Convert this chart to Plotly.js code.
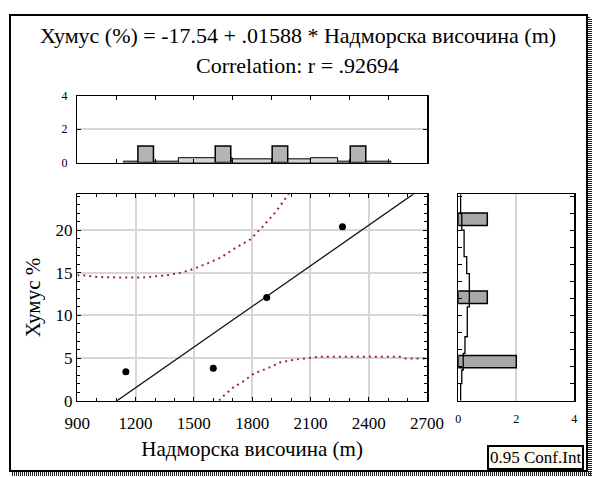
<!DOCTYPE html>
<html>
<head>
<meta charset="utf-8">
<script src="https://cdn.plot.ly/plotly-3.0.1.min.js"></script>
<style>
  html, body { margin: 0; padding: 0; background: #ffffff; }
  #chart { width: 595px; height: 477px; }
</style>
</head>
<body>
<div id="chart"></div>
<script>
// Observations: altitude (m) and humus content (%)
const altitude = [1150, 1600, 1875, 2265];
const humus = [3.4, 3.8, 12.1, 20.4];

// Linear fit reported in the heading
const intercept = -17.54;
const slope = 0.01588;
const correlation = '.92694';

// 0.95 confidence band (upper and lower limits)
const upperX = [900, 930, 1000, 1050, 1120, 1240, 1360, 1430, 1480, 1570, 1600, 1640, 1720, 1790, 1850, 1920, 1965, 1990];
const upperY = [14.7, 14.7, 14.5, 14.45, 14.45, 14.45, 14.7, 15.0, 15.3, 16.1, 16.4, 16.8, 18.0, 18.9, 20.3, 22.1, 23.5, 24.3];
const lowerX = [1630, 1645, 1705, 1750, 1810, 1880, 1945, 2015, 2085, 2150, 2330, 2560, 2590, 2700];
const lowerY = [0.0, 0.4, 1.6, 2.2, 3.2, 3.8, 4.5, 4.8, 5.0, 5.15, 5.15, 5.15, 4.95, 4.95];

// Histogram of altitude (top panel)
const altBinCenters = [1252, 1650, 1943, 2345];
const altBinCounts = [1, 1, 1, 1];
const altBinWidth = 80;
// Expected frequencies of altitude under a normal fit
const altExpEdges = [1137, 1420, 1697, 2100, 2240, 2515];
const altExpCounts = [0.08, 0.29, 0.22, 0.29, 0.08];

// Histogram of humus (right panel)
const humBinCenters = [21.28, 12.13, 4.58];
const humBinCounts = [1, 1, 2];
const humBinWidth = 1.45;
// Expected frequencies of humus under a normal fit (step curve)
const humExpLevels = [0, 2.0, 3.6, 5.55, 7.5, 11.0, 14.9, 16.9, 20.0, 21.95, 24.2];
const humExpCounts = [0.08, 0.12, 0.17, 0.23, 0.31, 0.38, 0.29, 0.2, 0.12, 0.08, 0.08];

// Axis ranges and ticks
const altRange = [900, 2700];
const humRange = [0, 24.2];
const altTicks = [900, 1200, 1500, 1800, 2100, 2400, 2700];
const humTicks = [0, 5, 10, 15, 20];
const countTicks = [0, 2, 4];

const W = 595, H = 477;
const px = v => v / W;
const py = v => 1 - v / H;

const FONT = 'Liberation Serif';
const GRID = '#d6d6d6';
const BAND = '#9e2b2b';

const fitX = altRange.slice();
const fitY = fitX.map(x => intercept + slope * x);

const expCenters = altExpCounts.map((_, i) => (altExpEdges[i] + altExpEdges[i + 1]) / 2);
const expWidths = altExpCounts.map((_, i) => altExpEdges[i + 1] - altExpEdges[i]);

const traces = [
  // main scatter panel
  { x: upperX, y: upperY, type: 'scatter', mode: 'lines', xaxis: 'x', yaxis: 'y',
    line: { color: BAND, width: 2, dash: '2px,4px' }, hoverinfo: 'skip' },
  { x: lowerX, y: lowerY, type: 'scatter', mode: 'lines', xaxis: 'x', yaxis: 'y',
    line: { color: BAND, width: 2, dash: '2px,4px' }, hoverinfo: 'skip' },
  { x: fitX, y: fitY, type: 'scatter', mode: 'lines', xaxis: 'x', yaxis: 'y',
    line: { color: '#111111', width: 1.3 } },
  { x: altitude, y: humus, type: 'scatter', mode: 'markers', xaxis: 'x', yaxis: 'y',
    marker: { color: '#000000', size: 7, symbol: 'circle' } },

  // top histogram panel
  { x: expCenters, y: altExpCounts, width: expWidths, type: 'bar', xaxis: 'x2', yaxis: 'y2',
    marker: { color: '#d4d4d4', line: { color: '#000000', width: 1 } } },
  { x: altBinCenters, y: altBinCounts, width: altBinWidth, type: 'bar', xaxis: 'x2', yaxis: 'y2',
    marker: { color: '#b4b4b4', line: { color: '#000000', width: 1.5 } } },

  // right histogram panel
  { y: humBinCenters, x: humBinCounts, width: humBinWidth, type: 'bar', orientation: 'h',
    xaxis: 'x3', yaxis: 'y3',
    marker: { color: '#a8a8a8', line: { color: '#000000', width: 1.5 } } },
  { x: humExpCounts, y: humExpLevels, type: 'scatter', mode: 'lines', xaxis: 'x3', yaxis: 'y3',
    line: { color: '#000000', width: 1.3, shape: 'vh' } }
];

const axisCommon = {
  showline: true, linecolor: '#000000', linewidth: 1.5, mirror: 'allticks',
  ticks: 'inside', tickcolor: '#000000', ticklen: 4, tickwidth: 1,
  zeroline: false, fixedrange: true, automargin: false
};

const layout = {
  width: W, height: H,
  margin: { l: 0, r: 0, t: 0, b: 0 },
  paper_bgcolor: '#ffffff', plot_bgcolor: '#ffffff',
  showlegend: false, bargap: 0,
  font: { family: FONT, color: '#000000', size: 17 },

  xaxis: Object.assign({}, axisCommon, {
    domain: [px(77.3), px(427)], range: altRange, anchor: 'y',
    tickmode: 'array', tickvals: altTicks, ticktext: altTicks.map(String),
    showgrid: true, gridcolor: GRID, gridwidth: 2,
    minor: { dtick: 100, tick0: 900, ticks: 'inside', ticklen: 3, tickcolor: '#000000', showgrid: false },
    tickfont: { family: FONT, size: 17 }, ticklabelstandoff: 6,
    title: { text: 'Надморска височина (m)', font: { family: FONT, size: 21 }, standoff: 9 }
  }),
  yaxis: Object.assign({}, axisCommon, {
    domain: [py(400.7), py(194.3)], range: humRange, anchor: 'x',
    tickmode: 'array', tickvals: humTicks, ticktext: humTicks.map(String),
    showgrid: true, gridcolor: GRID, gridwidth: 2,
    minor: { dtick: 1, tick0: 0, ticks: 'inside', ticklen: 3, tickcolor: '#000000', showgrid: false },
    tickfont: { family: FONT, size: 17 },
    title: { text: 'Хумус %', font: { family: FONT, size: 21 }, standoff: 9 }
  }),

  xaxis2: Object.assign({}, axisCommon, {
    domain: [px(77.3), px(427)], range: altRange, anchor: 'y2',
    tick0: 1100, dtick: 200, showticklabels: false, showgrid: false
  }),
  yaxis2: Object.assign({}, axisCommon, {
    domain: [py(162.5), py(96)], range: [0, 4], anchor: 'x2',
    tickmode: 'array', tickvals: countTicks, ticktext: countTicks.map(String),
    showgrid: true, gridcolor: GRID, gridwidth: 2,
    tickfont: { family: FONT, size: 12 }, ticklabelstandoff: 6
  }),

  xaxis3: Object.assign({}, axisCommon, {
    domain: [px(458.3), px(574.3)], range: [0, 4], anchor: 'y3',
    tickmode: 'array', tickvals: countTicks, ticktext: countTicks.map(String),
    showgrid: true, gridcolor: GRID, gridwidth: 2, ticks: '',
    tickfont: { family: FONT, size: 12 }, ticklabelstandoff: 6
  }),
  yaxis3: Object.assign({}, axisCommon, {
    domain: [py(400.7), py(194.3)], range: humRange, anchor: 'x3',
    dtick: 2, tick0: 0, showticklabels: false, showgrid: false
  }),

  annotations: [
    { xref: 'paper', yref: 'paper', x: 0.5, y: py(36), xanchor: 'center', yanchor: 'middle',
      text: 'Хумус (%) = ' + intercept.toFixed(2) + ' + ' + String(slope).replace(/^0/, '') + ' * Надморска височина (m)',
      showarrow: false, font: { family: FONT, size: 22 } },
    { xref: 'paper', yref: 'paper', x: 0.5, y: py(65), xanchor: 'center', yanchor: 'middle',
      text: 'Correlation: r = ' + correlation,
      showarrow: false, font: { family: FONT, size: 22 } },
    { xref: 'paper', yref: 'paper', x: px(535.5), y: py(457.5), xanchor: 'center', yanchor: 'middle',
      text: '0.95 Conf.Int', showarrow: false, font: { family: FONT, size: 17 },
      bgcolor: '#fffaf0', bordercolor: '#000000', borderwidth: 2, borderpad: 1 }
  ],

  shapes: [
    // outer frame
    { type: 'rect', xref: 'paper', yref: 'paper', x0: px(10), x1: px(587), y0: py(471), y1: py(15),
      line: { color: '#000000', width: 2 }, fillcolor: 'rgba(0,0,0,0)' },
    // hatched drop shadow on the right and bottom edges
    { type: 'line', xref: 'paper', yref: 'paper', x0: px(589), x1: px(589), y0: py(476), y1: py(17),
      line: { color: '#222222', width: 2, dash: '1px,1px' } },
    { type: 'line', xref: 'paper', yref: 'paper', x0: px(591), x1: px(591), y0: py(476), y1: py(18),
      line: { color: '#222222', width: 2, dash: '1px,1px' } },
    { type: 'line', xref: 'paper', yref: 'paper', x0: px(12), x1: px(592), y0: py(473), y1: py(473),
      line: { color: '#222222', width: 2, dash: '1px,1px' } },
    { type: 'line', xref: 'paper', yref: 'paper', x0: px(12), x1: px(592), y0: py(475), y1: py(475),
      line: { color: '#222222', width: 2, dash: '1px,1px' } }
  ]
};

Plotly.newPlot('chart', traces, layout, { staticPlot: true, displayModeBar: false });
</script>
</body>
</html>
